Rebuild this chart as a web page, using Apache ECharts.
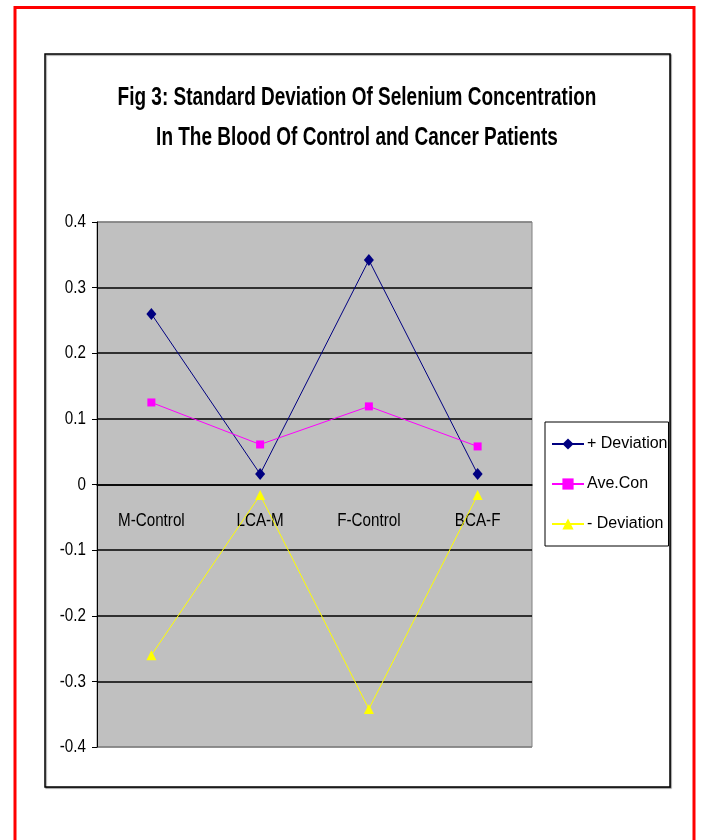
<!DOCTYPE html>
<html>
<head>
<meta charset="utf-8">
<title>Fig 3</title>
<script src="https://cdn.jsdelivr.net/npm/echarts@6/dist/echarts.min.js"></script>
<style>
  html, body { margin: 0; padding: 0; background: #fff; }
  #chart { width: 704px; height: 840px; }
</style>
</head>
<body>
<div id="chart"></div>
<script>
// 数据
var categories = ['M-Control', 'LCA-M', 'F-Control', 'BCA-F'];
var plusDeviation = [0.26, 0.016, 0.342, 0.016];
var aveCon = [0.125, 0.061, 0.119, 0.058];
var minusDeviation = [-0.26, -0.016, -0.342, -0.016];
var seriesNames = ['+ Deviation', 'Ave.Con', '- Deviation'];
var yTicks = [0.4, 0.3, 0.2, 0.1, 0, -0.1, -0.2, -0.3, -0.4];
var yTickLabels = ['0.4', '0.3', '0.2', '0.1', '0', '-0.1', '-0.2', '-0.3', '-0.4'];
var titleLines = ['Fig 3: Standard Deviation Of Selenium Concentration', 'In The Blood Of Control and Cancer Patients'];

var font = "'Liberation Sans', Arial, sans-serif";
var narrowScale = 0.8;   // 模拟 Arial Narrow

var myChart = echarts.init(document.getElementById('chart'));

var option = {
    backgroundColor: '#fff',
    animation: false,
    graphic: [
        {   // 外面的红框
            id: 'redBorder',
            type: 'rect',
            shape: { x: 15, y: 7.5, width: 679, height: 900 },
            style: { fill: 'none', stroke: '#ff0000', lineWidth: 3 }
        },
        {   // 图表框
            id: 'chartBox',
            type: 'rect',
            shape: { x: 45, y: 54, width: 625, height: 733 },
            style: {
                fill: '#fff', stroke: '#000', lineWidth: 1.5,
                shadowColor: 'rgba(0,0,0,0.4)', shadowOffsetX: 1, shadowOffsetY: 1, shadowBlur: 1
            },
            z: -10
        },
        {   // 标题两行，横向压缩
            id: 'title1',
            type: 'text',
            x: 357, y: 98, scaleX: 0.73,
            style: {
                text: titleLines[0],
                font: "bold 26px " + font,
                fill: '#000', align: 'center', verticalAlign: 'middle'
            }
        },
        {
            id: 'title2',
            type: 'text',
            x: 357, y: 138, scaleX: 0.73,
            style: {
                text: titleLines[1],
                font: "bold 26px " + font,
                fill: '#000', align: 'center', verticalAlign: 'middle'
            }
        }
    ],
    legend: {
        orient: 'vertical',
        left: 545,
        top: 422,
        padding: [14, 1, 14, 6],
        itemWidth: 32,
        itemHeight: 14,
        itemGap: 24,
        borderColor: '#000',
        borderWidth: 1,
        backgroundColor: '#fff',
        data: seriesNames,
        textStyle: {
            fontFamily: font,
            fontSize: 16,
            color: '#000',
            padding: [0, 0, 0, -2]
        }
    },
    grid: {
        left: 97,
        top: 222,
        width: 435,
        height: 525,
        show: true,
        backgroundColor: '#c0c0c0',
        borderColor: '#808080',
        borderWidth: 1
    },
    xAxis: {
        type: 'category',
        data: categories,
        boundaryGap: true,
        offset: -262.5,     // 放在 0 的位置
        axisLine: { onZero: false, lineStyle: { color: '#000', width: 1.5 } },
        axisTick: { length: 7, lineStyle: { color: '#000' } },
        axisLabel: { show: false },
        splitLine: { show: false }
    },
    yAxis: {
        type: 'value',
        min: -0.4,
        max: 0.4,
        interval: 0.1,
        axisLine: { show: true, lineStyle: { color: '#000', width: 1 } },
        axisTick: { show: true, length: 5, lineStyle: { color: '#000' } },
        axisLabel: { show: false },
        splitLine: {
            show: true,
            lineStyle: {
                width: 1.5,
                color: ['#808080', '#000', '#000', '#000', '#000', '#000', '#000', '#000', '#808080']
            }
        }
    },
    series: [
        {
            name: seriesNames[0],
            type: 'line',
            data: plusDeviation,
            symbol: 'diamond',
            symbolSize: [10, 12],
            itemStyle: { color: '#000080' },
            lineStyle: { color: '#000080', width: 1 }
        },
        {
            name: seriesNames[1],
            type: 'line',
            data: aveCon,
            symbol: 'rect',
            symbolSize: 8,
            itemStyle: { color: '#ff00ff' },
            lineStyle: { color: '#ff00ff', width: 1 }
        },
        {
            name: seriesNames[2],
            type: 'line',
            data: minusDeviation,
            symbol: 'triangle',
            symbolSize: 10,
            itemStyle: { color: '#ffff00' },
            lineStyle: { color: '#ffff00', width: 1 }
        }
    ]
};

myChart.setOption(option);

// 坐标轴文字用窄字体：按坐标轴换算位置后再画
var labels = [];
var zeroY = myChart.convertToPixel({ yAxisIndex: 0 }, 0);
yTicks.forEach(function (v, i) {
    labels.push({
        id: 'yLabel' + i,
        type: 'text',
        x: option.grid.left - 11,
        y: myChart.convertToPixel({ yAxisIndex: 0 }, v),
        scaleX: narrowScale,
        style: {
            text: yTickLabels[i],
            font: '19px ' + font,
            fill: '#000', align: 'right', verticalAlign: 'middle'
        }
    });
});
categories.forEach(function (c, i) {
    labels.push({
        id: 'xLabel' + i,
        type: 'text',
        x: myChart.convertToPixel({ xAxisIndex: 0 }, c),
        y: zeroY + 36,
        scaleX: narrowScale,
        style: {
            text: c,
            font: '19px ' + font,
            fill: '#000', align: 'center', verticalAlign: 'middle'
        }
    });
});
myChart.setOption({ graphic: labels });
</script>
</body>
</html>
